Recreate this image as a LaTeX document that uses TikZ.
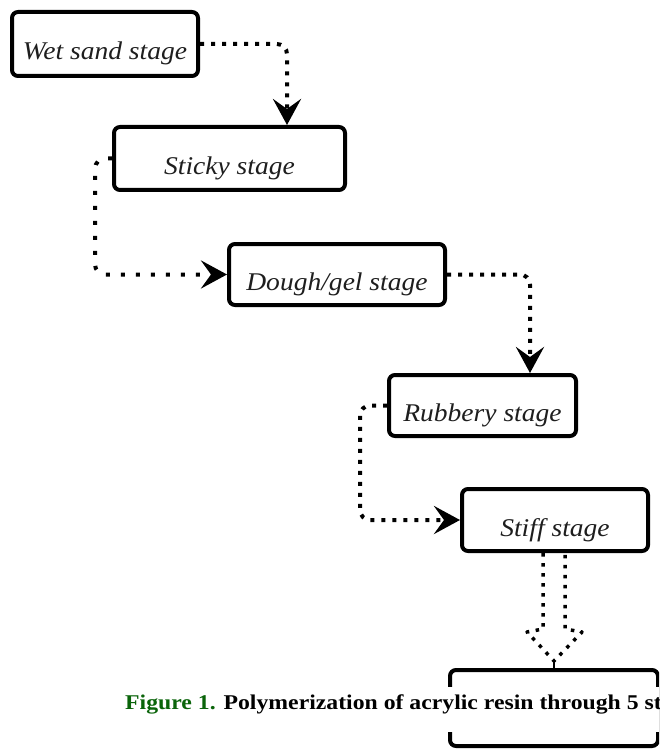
\documentclass[tikz,border=0pt]{standalone}
\usepackage{fontspec}
\setmainfont{Liberation Serif}
\newfontface\stagefont[FakeStretch=1.08]{Liberation Serif Italic}
\newfontface\capfont[FakeStretch=1.13]{Liberation Serif Bold}
\usetikzlibrary{arrows.meta}
\definecolor{figgreen}{RGB}{10,100,10}
\definecolor{stagetext}{RGB}{30,30,30}
\begin{document}
\begin{tikzpicture}[x=1pt,y=-1pt,
  stagebox/.style={draw, line width=4pt, rounded corners=6pt, inner sep=0pt,
    text height=32pt, text depth=0pt, text=stagetext,
    font=\stagefont\fontsize{25.5}{28}\selectfont},
  dotline/.style={line width=4pt, dash pattern=on 4pt off 7pt, rounded corners=10pt},
  sparsedots/.style={dash pattern=on 4pt off 11pt},
  tipend/.style={-{Stealth[length=26pt,width=28pt,inset=10pt]}},
  blockdots/.style={line width=3.5pt, dash pattern=on 3.5pt off 6.5pt, line join=round}]
\useasboundingbox (0,0) rectangle (659,751);
\clip (0,0) rectangle (659,751);

\node[stagebox, minimum width=186pt, minimum height=64pt] (b1) at (105,44) {Wet sand stage};
\node[stagebox, minimum width=231pt, minimum height=63pt] (b2) at (229.5,158.5) {Sticky stage};
\node[stagebox, minimum width=216pt, minimum height=61pt] (b3) at (337,274.5) {Dough/gel stage};
\node[stagebox, minimum width=187pt, minimum height=61pt] (b4) at (482.5,405.5) {Rubbery stage};
\node[stagebox, minimum width=186pt, minimum height=62pt] (b5) at (555,520) {Stiff stage};
\node[stagebox, minimum width=208pt, minimum height=76pt] (b6) at (554,708) {};

% connectors
\draw[dotline, tipend] (b1.east) -| ([xshift=57.5pt]b2.north);
\draw[dotline, sparsedots, tipend] (b2.west) -- ++(-17,0) |- (b3.west);
\draw[dotline, tipend] (b3.east) -| ([xshift=47.5pt]b4.north);
\draw[dotline, tipend] (b4.west) -- ++(-27,0) |- (b5.west);

% hollow dotted block arrow
\coordinate (batip) at (554,661);
\draw[blockdots] ([xshift=-12pt]b5.south) -- ++(0,76) -- ++(-16,3) -- (batip)
  -- ++(28,-29) -- ++(-17,-3) -- ++(0,-76);
\draw[line width=2pt] (batip) -- (b6.north);

% caption over white band
\fill[white] (0,687) rectangle (659,732);
\node[anchor=base west, inner sep=0pt, font=\capfont\fontsize{21}{25}\selectfont] (cap) at (125,709)
  {\textcolor{figgreen}{Figure 1.} Polymerization of acrylic resin through 5 st};
\end{tikzpicture}
\end{document}
